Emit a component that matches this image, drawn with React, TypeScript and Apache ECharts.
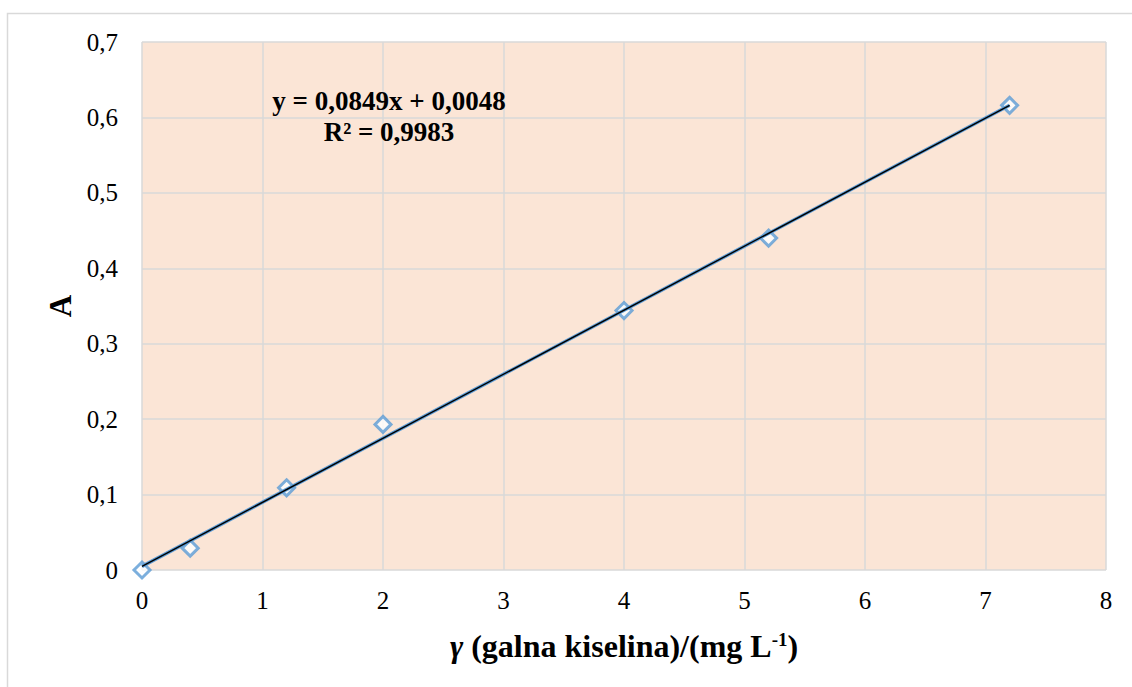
import React, { useEffect, useRef } from "react";
import * as echarts from "echarts";

const xValues = [0, 0.4, 1.2, 2, 4, 5.2, 7.2];
const yValues = [0, 0.029, 0.109, 0.193, 0.344, 0.44, 0.616];
const trendX = [0, 7.2];
const trendY = [0.0048, 0.6161];
const equationLines = ["y = 0,0849x + 0,0048", "R² = 0,9983"];
const xAxisMax = 8;
const yAxisMax = 0.7;

const FONT = "Liberation Serif";
const BLUE = "#5B9BD5";
const GRID = "#D9D9D9";

export default function App() {
  const ref = useRef<HTMLDivElement>(null);
  useEffect(() => {
    if (!ref.current) return;
    const chart = echarts.init(ref.current, undefined, { renderer: "svg" });
    const points = xValues.map((x, i) => [x, yValues[i]]);
    const trend = trendX.map((x, i) => [x, trendY[i]]);
    chart.setOption({
      animation: false,
      backgroundColor: "#ffffff",
      textStyle: { fontFamily: FONT, color: "#000" },
      grid: {
        left: 142,
        top: 42,
        right: 26,
        bottom: 117,
        show: true,
        backgroundColor: "#FBE5D6",
        borderWidth: 0,
      },
      xAxis: {
        type: "value",
        min: 0,
        max: xAxisMax,
        interval: 1,
        axisLine: { show: false },
        axisTick: { show: false },
        splitLine: { show: true, lineStyle: { color: GRID, width: 1.5 } },
        axisLabel: { fontFamily: FONT, fontSize: 25, color: "#000", margin: 18 },
        name: "{i|γ}{b| (galna kiselina)/(mg L}{s|-1}{b|)}",
        nameLocation: "middle",
        nameGap: 60,
        nameTextStyle: {
          fontFamily: FONT,
          rich: {
            i: { fontFamily: FONT, fontSize: 32, fontWeight: "bold", fontStyle: "italic", color: "#000" },
            b: { fontFamily: FONT, fontSize: 32, fontWeight: "bold", color: "#000" },
            s: { fontFamily: FONT, fontSize: 19, fontWeight: "bold", color: "#000", verticalAlign: "top", lineHeight: 19 },
          },
        },
      },
      yAxis: {
        type: "value",
        min: 0,
        max: yAxisMax,
        interval: 0.1,
        axisLine: { show: false },
        axisTick: { show: false },
        splitLine: { show: true, lineStyle: { color: GRID, width: 1.5 } },
        axisLabel: {
          fontFamily: FONT,
          fontSize: 25,
          color: "#000",
          margin: 24,
          formatter: (v: number) => (Math.round(v * 10) / 10).toString().replace(".", ","),
        },
      },
      graphic: [
        {
          type: "rect",
          shape: { x: 7.5, y: 13.5, width: 1200, height: 720 },
          style: { fill: "none", stroke: GRID, lineWidth: 1.5 },
          silent: true,
        },
        {
          type: "text",
          x: 60,
          y: 306,
          rotation: Math.PI / 2,
          style: {
            text: "A",
            fontFamily: FONT,
            fontSize: 31,
            fontWeight: "bold",
            fill: "#000",
            align: "center",
            verticalAlign: "middle",
          },
        },
        {
          type: "text",
          x: 389,
          y: 116,
          z: 100,
          style: {
            text: equationLines.join("\n"),
            fontFamily: FONT,
            fontSize: 27,
            lineHeight: 31,
            fontWeight: "bold",
            fill: "#000",
            align: "center",
            verticalAlign: "middle",
          },
        },
      ],
      series: [
        {
          type: "scatter",
          data: points,
          symbol: "diamond",
          symbolSize: 16,
          itemStyle: { color: "#ffffff", borderColor: BLUE, borderWidth: 3 },
          z: 2,
        },
        {
          type: "line",
          data: trend,
          symbol: "none",
          lineStyle: { color: BLUE, width: 3.5 },
          z: 3,
        },
        {
          type: "line",
          data: trend,
          symbol: "none",
          lineStyle: { color: "#000000", width: 1.4 },
          z: 4,
        },
      ],
    });
    return () => chart.dispose();
  }, []);
  return (
    <div
      ref={ref}
      style={{ position: "fixed", left: 0, top: 0, width: 1132, height: 687 }}
    />
  );
}
